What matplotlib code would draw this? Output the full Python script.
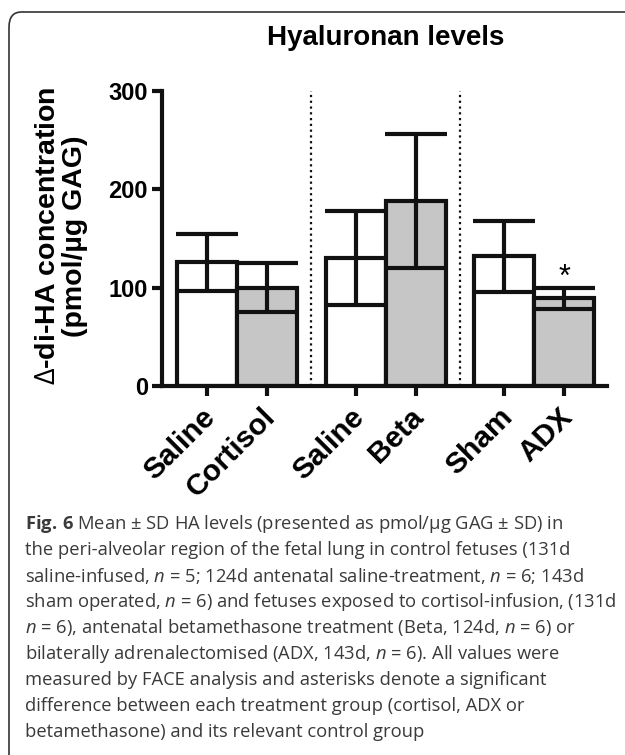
import numpy as np
import matplotlib
matplotlib.use("Agg")
import matplotlib.pyplot as plt
from matplotlib.patches import FancyBboxPatch

# data
labels = ["Saline", "Cortisol", "Saline", "Beta", "Sham", "ADX"]
means = [126, 100, 130, 188, 132, 89]
sds = [29, 25, 48, 68, 36, 11]
treated = [False, True, False, True, False, True]
signif = [False, False, False, False, False, True]

caption = [
    r"$\mathbf{Fig.\,6}$ Mean ± SD HA levels (presented as pmol/µg GAG ± SD) in",
    "the peri-alveolar region of the fetal lung in control fetuses (131d",
    r"saline-infused, $n$ = 5; 124d antenatal saline-treatment, $n$ = 6; 143d",
    r"sham operated, $n$ = 6) and fetuses exposed to cortisol-infusion, (131d",
    r"$n$ = 6), antenatal betamethasone treatment (Beta, 124d, $n$ = 6) or",
    r"bilaterally adrenalectomised (ADX, 143d, $n$ = 6). All values were",
    "measured by FACE analysis and asterisks denote a significant",
    "difference between each treatment group (cortisol, ADX or",
    "betamethasone) and its relevant control group",
]

plt.rcParams["mathtext.fontset"] = "custom"
plt.rcParams["mathtext.rm"] = "Open Sans"
plt.rcParams["mathtext.it"] = "Open Sans:italic"
plt.rcParams["mathtext.bf"] = "Open Sans:bold"

W, H = 625, 755
fig = plt.figure(figsize=(W / 100, H / 100), dpi=100)

# rounded frame round the whole figure (right side runs off the page)
frame = FancyBboxPatch((9 / W, -20 / H), 1200 / W, (H - 12 + 20) / H,
                       boxstyle="round,pad=0,rounding_size=0.02",
                       transform=fig.transFigure, fill=False,
                       edgecolor="#333333", linewidth=1.2)
fig.patches.append(frame)

ax = fig.add_axes([162 / W, 369 / H, 445 / W, 295 / H])

# group layout: pairs of bars with gaps between them
gap = 2.48
x = np.array([(i // 2) * gap + (i % 2) for i in range(len(labels))])
colors = ["#c6c6c6" if t else "white" for t in treated]

ax.bar(x, means, width=1.0, color=colors, edgecolor="#111111", linewidth=3, zorder=2)
ax.errorbar(x, means, yerr=sds, fmt="none", ecolor="#111111", elinewidth=3,
            capsize=22, capthick=3, zorder=3)

for xi, m, s, sg in zip(x, means, sds, signif):
    if sg:
        ax.text(xi, m + s + 10, "*", ha="center", va="center", fontsize=22,
                family="Liberation Sans")

for g in range(1, 3):
    xd = g * gap - (gap - 1) / 2
    ax.plot([xd, xd], [0, 300], linestyle=(0, (1, 1.6)), color="#111111",
            linewidth=1.6, zorder=1)

ax.set_xlim(-0.75, 6.67)
ax.set_ylim(0, 300)
ax.set_yticks([0, 100, 200, 300])
ax.set_xticks(x)
ax.set_xticklabels([])
# rotated category labels, placed a little left of each tick
for xi, lab in zip(x, labels):
    ax.annotate(lab, xy=(xi, 0), xycoords=("data", "axes fraction"),
                xytext=(-4.5, -12), textcoords="offset points",
                rotation=45, ha="right", va="top", rotation_mode="anchor",
                fontsize=21.5, fontweight="bold", family="Liberation Sans",
                annotation_clip=False)
for lab in ax.get_yticklabels():
    lab.set_fontsize(17)
    lab.set_fontweight("bold")
    lab.set_family("Liberation Sans")

for side in ["top", "right"]:
    ax.spines[side].set_visible(False)
for side in ["left", "bottom"]:
    ax.spines[side].set_linewidth(3)
    ax.spines[side].set_color("#111111")
ax.tick_params(axis="both", length=7, width=3, color="#111111")
ax.tick_params(axis="y", pad=3)
ax.patch.set_alpha(0)

fig.text(386 / W, 1 - 38 / H, "Hyaluronan levels", ha="center", va="center",
         fontsize=20, fontweight="bold", family="Liberation Sans")

fig.text(62 / W, 1 - 236 / H, "$\\Delta$-di-HA concentration\n(pmol/µg GAG)",
         rotation=90, ha="center", va="center", multialignment="center",
         fontsize=20.5, fontweight="bold", family="Liberation Sans",
         linespacing=1.05)

for i, line in enumerate(caption):
    fig.text(25 / W, 1 - (524 + 26 * i) / H, line, ha="left", va="center",
             fontsize=13.2, family="Open Sans", color="#3a3a3a")

fig.savefig("out.png", dpi=100)
